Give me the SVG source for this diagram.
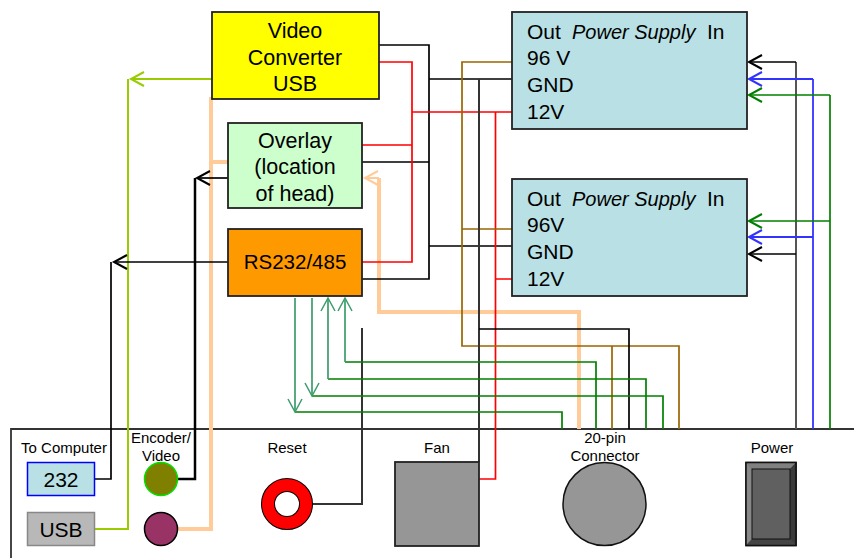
<svg xmlns="http://www.w3.org/2000/svg" width="854" height="558" viewBox="0 0 854 558">
<style>
text{font-family:"Liberation Sans",Arial,sans-serif;fill:#000;text-anchor:middle}
.b{font-size:21.500px}.m{font-size:21px}.s{font-size:15px}.l{text-anchor:start;font-size:21px}
.i{text-anchor:start;font-size:20px;font-style:italic}
.n{stroke:#222;stroke-width:1.800}
path{fill:none}
.k{stroke:#000;stroke-width:1.700}.d{stroke:#333;stroke-width:2}.r{stroke:#f00;stroke-width:1.700}
.br{stroke:#996600;stroke-width:1.700}.g{stroke:#008000;stroke-width:1.700}.sg{stroke:#3c9c6c;stroke-width:1.700}
.bl{stroke:#3333ff;stroke-width:1.800}.lg{stroke:#99cc00;stroke-width:2}.p{stroke:#ffcc99;stroke-width:4}
</style>
<defs>
<marker id="ak" markerUnits="userSpaceOnUse" markerWidth="16" markerHeight="18" refX="14" refY="8" orient="auto" overflow="visible"><path d="M1 1L14 8L1 15" stroke="#000" stroke-width="2"/></marker>
<marker id="ag" markerUnits="userSpaceOnUse" markerWidth="16" markerHeight="18" refX="14" refY="8" orient="auto" overflow="visible"><path d="M1 1L14 8L1 15" stroke="#008000" stroke-width="2"/></marker>
<marker id="as" markerUnits="userSpaceOnUse" markerWidth="16" markerHeight="18" refX="14" refY="8" orient="auto" overflow="visible"><path d="M1 1L14 8L1 15" stroke="#3c9c6c" stroke-width="1.500"/></marker>
<marker id="ab" markerUnits="userSpaceOnUse" markerWidth="16" markerHeight="18" refX="14" refY="8" orient="auto" overflow="visible"><path d="M1 1L14 8L1 15" stroke="#3333ff" stroke-width="2"/></marker>
<marker id="al" markerUnits="userSpaceOnUse" markerWidth="16" markerHeight="18" refX="14" refY="8" orient="auto" overflow="visible"><path d="M1 1L14 8L1 15" stroke="#99cc00" stroke-width="2"/></marker>
<marker id="ap" markerUnits="userSpaceOnUse" markerWidth="16" markerHeight="18" refX="14" refY="8" orient="auto" overflow="visible"><path d="M1 1L14 8L1 15" stroke="#ffcc99" stroke-width="2"/></marker>
</defs>
<g id="enclosure"><path d="M11 558V429H854" stroke="#333" stroke-width="1.800"/></g>
<g id="connectors">
<path class="p" d="M178 529H211V97M211 162H228"/>
<path class="p" d="M579 429V312H379V178" />
<path class="p" style="stroke-width:2" d="M379 178H365" marker-end="url(#ap)"/>
<path class="lg" d="M95 529H128V79"/>
<path class="lg" d="M212 79H131" marker-end="url(#al)"/>
<path class="k" d="M95 479H111V262"/>
<path class="k" d="M228 262H114" marker-end="url(#ak)"/>
<path class="k" style="stroke-width:2.500" d="M178 479H195V178"/>
<path class="k" d="M228 178H197" marker-end="url(#ak)"/>
<path class="k" d="M379 45H429V279H362M362 162H429M429 79H512M429 246H512"/>
<path class="r" d="M379 62H412V262H362M362 145H412M412 112H512M495.500 112V479H479M495.500 279H512"/>
<path class="br" d="M512 62H462V346H679V429M462 229H512M612 346V429"/>
<path class="d" d="M479 79V462"/>
<path class="k" d="M479 329H629V429"/>
<path class="d" d="M362 328V504H312"/>
<path class="g" d="M345 362H596V429M328 379H646V429M312 396H663V429M295 412H562V429"/>
<path class="sg" d="M345 362V298" marker-end="url(#as)"/>
<path class="sg" d="M328 379V298" marker-end="url(#as)"/>
<path class="sg" d="M312 298V396" marker-end="url(#as)"/>
<path class="sg" d="M295 298V412" marker-end="url(#as)"/>
<path class="d" style="stroke:#555" d="M796 429V62"/>
<path class="k" d="M796 62H749" marker-end="url(#ak)"/>
<path class="k" d="M796 254H749" marker-end="url(#ak)"/>
<path class="bl" d="M813 429V79"/>
<path class="bl" d="M813 79H749" marker-end="url(#ab)"/>
<path class="bl" d="M813 237H749" marker-end="url(#ab)"/>
<path class="g" d="M830 429V95"/>
<path class="g" d="M830 95H749" marker-end="url(#ag)"/>
<path class="g" d="M830 221H749" marker-end="url(#ag)"/>
</g>
<g id="video-converter"><rect class="n" x="212" y="12" width="167" height="87" fill="#ff0"/>
<text class="b" x="295" y="38">Video</text><text class="b" x="295" y="65">Converter</text><text class="b" x="295" y="91">USB</text></g>
<g id="overlay"><rect class="n" x="228" y="123" width="134" height="85" fill="#ccffcc"/>
<text class="b" x="295" y="148">Overlay</text><text class="b" x="295" y="174">(location</text><text class="b" x="295" y="201">of head)</text></g>
<g id="rs232"><rect class="n" x="228" y="229" width="134" height="67" fill="#ff9900"/>
<text x="295" y="269" font-size="20.500">RS232/485</text></g>
<g id="psu1"><rect class="n" x="512" y="12" width="235" height="117" fill="#b9e0e4"/>
<text class="l" x="527" y="39">Out</text><text class="i" x="572" y="39">Power Supply</text><text class="l" x="707" y="39">In</text>
<text class="l" x="527" y="65">96 V</text><text class="l" x="527" y="92">GND</text><text class="l" x="527" y="119">12V</text></g>
<g id="psu2"><rect class="n" x="512" y="179" width="235" height="117" fill="#b9e0e4"/>
<text class="l" x="527" y="206">Out</text><text class="i" x="572" y="206">Power Supply</text><text class="l" x="707" y="206">In</text>
<text class="l" x="527" y="232">96V</text><text class="l" x="527" y="259">GND</text><text class="l" x="527" y="286">12V</text></g>
<g id="port-232"><text class="s" x="64" y="453">To Computer</text><rect x="27.500" y="462.500" width="67" height="33" fill="#b9e0e4" stroke="#0000ff" stroke-width="1.500"/><text class="m" x="61" y="487">232</text></g>
<g id="port-usb"><rect x="27.500" y="512.500" width="67" height="33" fill="#b8b8b8" stroke="#888" stroke-width="1.500"/><text class="m" x="61" y="537">USB</text></g>
<g id="encoder"><text class="s" x="161" y="443">Encoder/</text><text class="s" x="161" y="461">Video</text><circle cx="161" cy="479" r="16.500" fill="#808000" stroke="#00e000" stroke-width="1.500"/></g>
<g id="video-jack"><circle cx="161" cy="529" r="16.500" fill="#993366" stroke="#000" stroke-width="1.500"/></g>
<g id="reset"><text class="s" x="287" y="453">Reset</text><circle cx="287" cy="504" r="19" fill="#fff" stroke="#000" stroke-width="14"/><circle cx="287" cy="504" r="19" fill="none" stroke="#f00" stroke-width="12"/></g>
<g id="fan"><text class="s" x="437" y="453">Fan</text><rect class="n" x="395" y="462" width="84" height="84" fill="#969696"/></g>
<g id="connector-20"><text class="s" x="605" y="443">20-pin</text><text class="s" x="605" y="461">Connector</text><circle cx="604.500" cy="504" r="41.500" fill="#969696" stroke="#111" stroke-width="1.500"/></g>
<g id="power"><text class="s" x="772" y="453">Power</text>
<rect x="746" y="462.500" width="50" height="83" fill="#606060" stroke="#111" stroke-width="1.500"/>
<polygon points="746,462.500 796,462.500 790,469 752,469" fill="#808080"/><polygon points="746,462.500 752,469 752,539 746,545.500" fill="#888"/><polygon points="796,462.500 790,469 790,539 796,545.500" fill="#3a3a3a"/><polygon points="746,545.500 752,539 790,539 796,545.500" fill="#444"/>
<rect x="752" y="469" width="38" height="70" fill="#606060" stroke="#111"/><rect x="746" y="462.500" width="50" height="83" fill="none" stroke="#111" stroke-width="1.500"/></g>
</svg>
